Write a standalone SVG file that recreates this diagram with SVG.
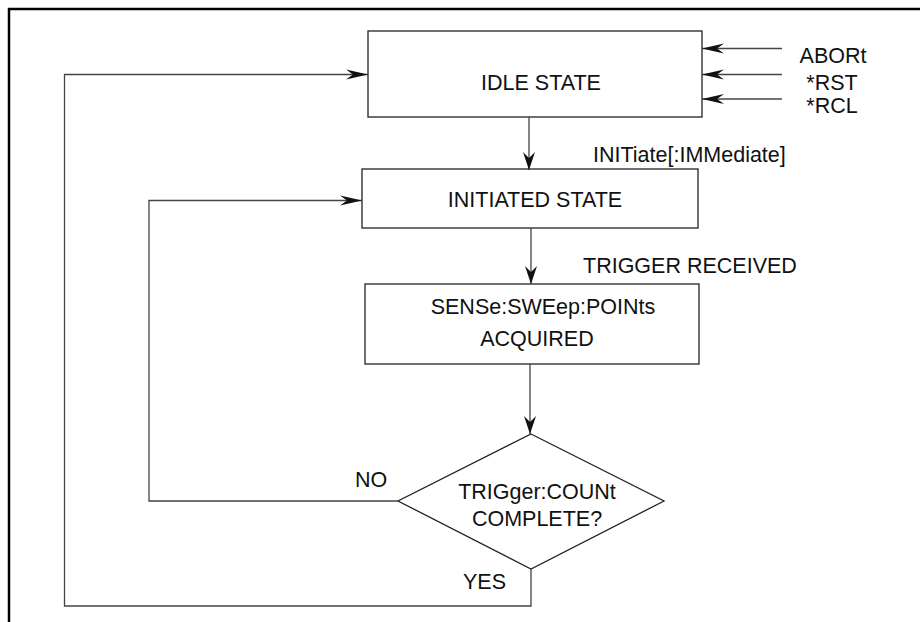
<svg xmlns="http://www.w3.org/2000/svg" width="920" height="622" viewBox="0 0 920 622">
<style>
.box{fill:#fff;stroke:#222;stroke-width:1.3}
.ln{fill:none;stroke:#444;stroke-width:1.3}
text{font-family:"Liberation Sans",Arial,sans-serif;font-size:21.5px;fill:#111}
.c{text-anchor:middle}
</style>
<defs>
<marker id="ah" markerUnits="userSpaceOnUse" markerWidth="24" markerHeight="12" viewBox="-23 -6 24 12" refX="0" refY="0" orient="auto">
<path d="M0,0 L-22,-5 L-15,0 L-22,5 Z" fill="#111"/>
</marker>
<marker id="av" markerUnits="userSpaceOnUse" markerWidth="20" markerHeight="14" viewBox="-19 -7 20 14" refX="0" refY="0" orient="auto">
<path d="M0,0 L-18,-6 L-12,0 L-18,6 Z" fill="#111"/>
</marker>
</defs>
<rect width="920" height="622" fill="#fff"/>
<path d="M9,623 V9 H921" fill="none" stroke="#000" stroke-width="2.5"/>

<g id="idle">
<rect class="box" x="368" y="31" width="334" height="86"/>
<text class="c" x="541" y="90">IDLE STATE</text>
</g>
<g id="initiated">
<rect class="box" x="362" y="169" width="336" height="59"/>
<text class="c" x="535" y="207">INITIATED STATE</text>
</g>
<g id="sense">
<rect class="box" x="365" y="284" width="334" height="80"/>
<text class="c" x="543" y="314">SENSe:SWEep:POINts</text>
<text class="c" x="537" y="346">ACQUIRED</text>
</g>
<g id="decision">
<polygon class="box" points="531,434 664,501 531,569 398,501"/>
<text class="c" x="537" y="499">TRIGger:COUNt</text>
<text class="c" x="537" y="526">COMPLETE?</text>
</g>

<g id="connectors">
<line class="ln" x1="782" y1="48.5" x2="702" y2="48.5" marker-end="url(#ah)"/>
<line class="ln" x1="782" y1="74.5" x2="702" y2="74.5" marker-end="url(#ah)"/>
<line class="ln" x1="782" y1="99" x2="702" y2="99" marker-end="url(#ah)"/>
<line class="ln" x1="529" y1="117" x2="529" y2="170" marker-end="url(#av)"/>
<line class="ln" x1="531" y1="228" x2="531" y2="284" marker-end="url(#av)"/>
<line class="ln" x1="530" y1="364" x2="530" y2="434" marker-end="url(#av)"/>
<path class="ln" d="M398,501 H149 V200.5 H362" marker-end="url(#ah)"/>
<path class="ln" d="M531,569 V606 H64.5 V74.5 H368" marker-end="url(#ah)"/>
</g>

<g id="labels">
<text class="c" x="833" y="63">ABORt</text>
<text class="c" x="832" y="90">*RST</text>
<text class="c" x="832" y="113">*RCL</text>
<text x="593" y="162">INITiate[:IMMediate]</text>
<text x="583" y="273">TRIGGER RECEIVED</text>
<text x="355" y="487">NO</text>
<text x="463" y="589">YES</text>
</g>
</svg>
